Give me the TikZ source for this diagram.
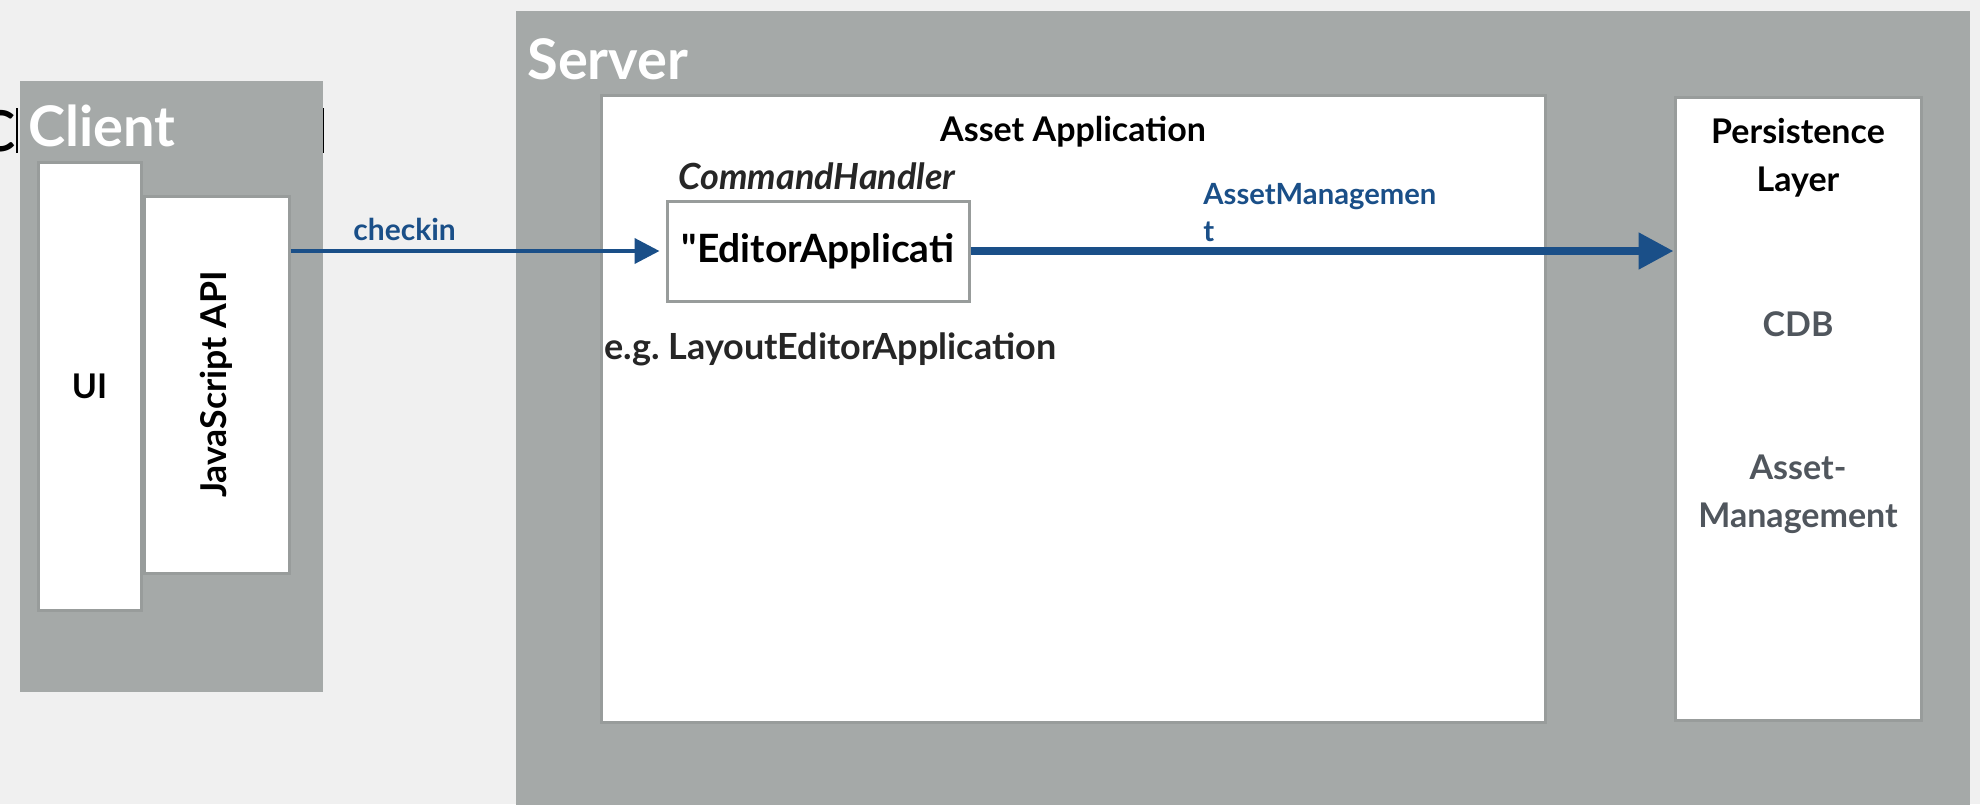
\documentclass[tikz,border=0pt]{standalone}
\usepackage{fontspec}
\setmainfont{Lato}[Ligatures=TeXOff]
\frenchspacing
\usetikzlibrary{arrows.meta}
\definecolor{bgc}{HTML}{F0F0F0}
\definecolor{panel}{HTML}{A5A9A8}
\definecolor{edgec}{HTML}{989C9B}
\definecolor{flowblue}{HTML}{1A4F88}
\definecolor{muted}{HTML}{50565D}
\newcommand{\fsz}[2]{\fontsize{#1}{#2}\selectfont}
\tikzset{
  panelbox/.style={fill=panel, draw=none},
  whitebox/.style={fill=white, draw=edgec, line width=1.5pt, inner sep=0pt},
  title/.style={text=white, font=\bfseries\fsz{28pt}{30pt}, inner sep=0pt},
  label/.style={font=\bfseries\fsz{17pt}{24pt}, inner sep=0pt},
  flow/.style={draw=flowblue, line width=2pt, -{Triangle[length=12.5pt,width=12.5pt]}},
  flowthick/.style={draw=flowblue, line width=4pt, -{Triangle[length=17.5pt,width=17.5pt]}},
}
\begin{document}
\begin{tikzpicture}[x=0.5pt,y=-0.5pt]
\fill[bgc] (0,0) rectangle (1980,804);
\useasboundingbox (0,0) rectangle (1980,804);
% partially hidden text and bars
\node[anchor=base east, inner sep=0pt, font=\fsz{40pt}{48pt}] (ctext) at (17,151) {c};
\coordinate (barla) at (17,108); \coordinate (barlb) at (17,153);
\coordinate (barra) at (323,108); \coordinate (barrb) at (323,153);
\draw[line width=1pt] (barla) -- (barlb);
\draw[line width=1pt] (barra) -- (barrb);
% client
\path[panelbox] (20,81) rectangle (323,692);
\node[title, anchor=base west] (clienttitle) at (28,146) {Client};
\node[whitebox, minimum width=51.5pt, minimum height=224pt] (ui) at (89.5,386) {};
\node[label] at (ui.center) {UI};
\node[whitebox, minimum width=72.5pt, minimum height=188.5pt] (js) at (216.5,384.5) {};
\node[label, rotate=90, font=\bfseries\fsz{17.8pt}{24pt}] at (js.center) {JavaScript API};
% server
\path[panelbox] (516,11) rectangle (1970,810);
\node[title, anchor=base west, font=\bfseries\fsz{28pt}{32pt}] (servertitle) at (527,79) {Server};
\node[whitebox, minimum width=472pt, minimum height=313.5pt] (app) at (1073,408.5) {};
\node[label, anchor=base] (apptitle) at (1073,141) {Asset Application};
\node[whitebox, minimum width=123pt, minimum height=311.5pt] (ps) at (1798,408.5) {};
\node[label, anchor=base, align=center] (pstitle) at (1798,191) {Persistence\\Layer};
\node[label, anchor=base, text=muted] (cdb) at (1798,336) {CDB};
\node[label, anchor=base, text=muted, align=center] (am) at (1798,527) {Asset-\\Management};
\node[whitebox, minimum width=151pt, minimum height=50pt] (ch) at (818,251) {};
\node[label, font=\bfseries\fsz{19.5pt}{24pt}] (chtext) at (ch.center) {"EditorApplicati};
\node[label, anchor=base, font=\bfseries\itshape\fsz{18pt}{24pt}, text=black!85] (chname) at (817,189) {CommandHandler};
\node[label, anchor=base west, font=\bfseries\fsz{18pt}{24pt}, text=black!85] (eg) at (604,359) {e.g. LayoutEditorApplication};
% connectors
\draw[flow, shorten >=3pt] (ch.west -| js.east) -- (ch.west);
\node[anchor=base west, inner sep=0pt, text=flowblue, font=\bfseries\fsz{15pt}{18pt}] (checkin) at (353,240) {checkin};
\draw[flowthick] (ch.east) -- (ps.west |- ch.east);
\node[anchor=base west, inner sep=0pt, text=flowblue, font=\bfseries\fsz{14.6pt}{18.5pt}, align=left] (amlabel) at (1203,241) {AssetManagemen\\t};
\end{tikzpicture}
\end{document}
